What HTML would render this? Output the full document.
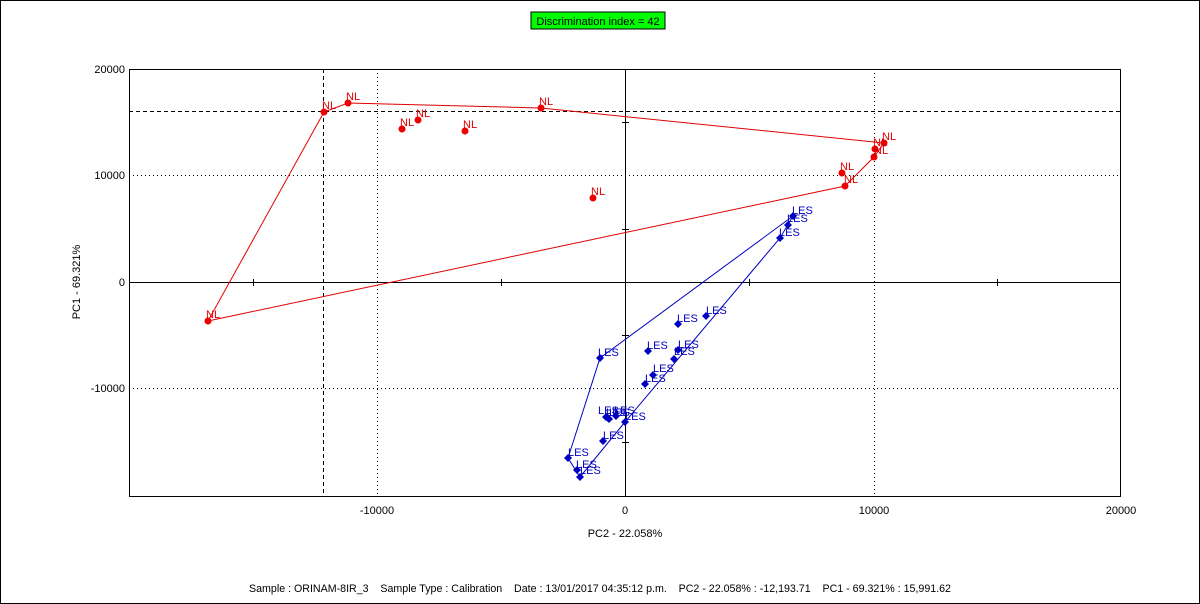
<!DOCTYPE html>
<html><head><meta charset="utf-8"><style>
body{margin:0;background:#fff;}
svg{display:block;font-family:"Liberation Sans",sans-serif;}
</style></head><body>
<svg width="1200" height="604" viewBox="0 0 1200 604" xmlns="http://www.w3.org/2000/svg">
<rect x="0.5" y="0.5" width="1199" height="603" fill="#fff" stroke="#000"/>
<rect x="531" y="12" width="134" height="17" fill="#00ff00" stroke="#000"/>
<text x="598" y="25" font-size="11" text-anchor="middle">Discrimination index = 42</text>
<g stroke="#000" stroke-width="1" stroke-dasharray="1,3">
<line x1="129" y1="175.5" x2="1121" y2="175.5"/>
<line x1="129" y1="388.5" x2="1121" y2="388.5"/>
<line x1="377.5" y1="69" x2="377.5" y2="496"/>
<line x1="874.5" y1="69" x2="874.5" y2="496"/>
</g>
<g stroke="#000" stroke-width="1" stroke-dasharray="4,3">
<line x1="323.5" y1="69" x2="323.5" y2="496"/>
<line x1="129" y1="111.5" x2="1121" y2="111.5"/>
</g>
<g stroke="#000" stroke-width="1">
<line x1="129" y1="282.5" x2="1121" y2="282.5"/>
<line x1="625.5" y1="69" x2="625.5" y2="496"/>
<line x1="253.5" y1="279" x2="253.5" y2="286"/>
<line x1="501.5" y1="279" x2="501.5" y2="286"/>
<line x1="749.5" y1="279" x2="749.5" y2="286"/>
<line x1="997.5" y1="279" x2="997.5" y2="286"/>
<line x1="622" y1="122.5" x2="629" y2="122.5"/>
<line x1="622" y1="229.5" x2="629" y2="229.5"/>
<line x1="622" y1="335.5" x2="629" y2="335.5"/>
<line x1="622" y1="442.5" x2="629" y2="442.5"/>
</g>
<rect x="129.5" y="69.5" width="991" height="427" fill="none" stroke="#000"/>
<g font-size="11" fill="#000">
<text x="125" y="73" text-anchor="end">20000</text>
<text x="125" y="179" text-anchor="end">10000</text>
<text x="125" y="286" text-anchor="end">0</text>
<text x="125" y="392" text-anchor="end">-10000</text>
<text x="377" y="514" text-anchor="middle">-10000</text>
<text x="625" y="514" text-anchor="middle">0</text>
<text x="874" y="514" text-anchor="middle">10000</text>
<text x="1121" y="514" text-anchor="middle">20000</text>
<text x="625" y="537" text-anchor="middle">PC2 - 22.058%</text>
<text transform="translate(80,282) rotate(-90)" text-anchor="middle">PC1 - 69.321%</text>
<text x="249" y="592" style="white-space:pre" xml:space="preserve" textLength="702" lengthAdjust="spacingAndGlyphs">Sample : ORINAM-8IR_3    Sample Type : Calibration    Date : 13/01/2017 04:35:12 p.m.    PC2 - 22.058% : -12,193.71    PC1 - 69.321% : 15,991.62</text>
</g>
<polyline fill="none" stroke="#e00000" points="208,321 324,112 348,103 541,108 884,143 874,157 845,186 208,321"/>
<g fill="#ee0000">
<circle cx="208" cy="321" r="3.5"/><circle cx="324" cy="112" r="3.5"/><circle cx="348" cy="103" r="3.5"/>
<circle cx="402" cy="129" r="3.5"/><circle cx="418" cy="120" r="3.5"/><circle cx="465" cy="131" r="3.5"/>
<circle cx="541" cy="108" r="3.5"/><circle cx="593" cy="198" r="3.5"/><circle cx="842" cy="173" r="3.5"/>
<circle cx="845" cy="186" r="3.5"/><circle cx="875" cy="149" r="3.5"/><circle cx="874" cy="157" r="3.5"/>
<circle cx="884" cy="143" r="3.5"/>
</g>
<g fill="#e00000" font-size="11">
<text x="206" y="318">NL</text><text x="322" y="109">NL</text><text x="346" y="100">NL</text>
<text x="400" y="126">NL</text><text x="416" y="117">NL</text><text x="463" y="128">NL</text>
<text x="539" y="105">NL</text><text x="591" y="195">NL</text><text x="840" y="170">NL</text>
<text x="844" y="183">NL</text><text x="873" y="146">NL</text><text x="874" y="154">NL</text>
<text x="882" y="140">NL</text>
</g>
<polyline fill="none" stroke="#0000c0" points="600,358 793,216 780,238 625,422 580,477 568,458 600,358"/>
<g fill="#0000c0">
<path d="M600,354l4,4l-4,4l-4,-4z"/><path d="M608,414l4,4l-4,4l-4,-4z"/><path d="M616,412l4,4l-4,4l-4,-4z"/>
<path d="M606,413l4,4l-4,4l-4,-4z"/><path d="M609,415l4,4l-4,4l-4,-4z"/><path d="M625,418l4,4l-4,4l-4,-4z"/>
<path d="M603,437l4,4l-4,4l-4,-4z"/><path d="M568,454l4,4l-4,4l-4,-4z"/><path d="M577,466l4,4l-4,4l-4,-4z"/>
<path d="M580,473l4,4l-4,4l-4,-4z"/><path d="M645,380l4,4l-4,4l-4,-4z"/><path d="M653,371l4,4l-4,4l-4,-4z"/>
<path d="M648,347l4,4l-4,4l-4,-4z"/><path d="M678,320l4,4l-4,4l-4,-4z"/><path d="M678,346l4,4l-4,4l-4,-4z"/>
<path d="M674,355l4,4l-4,4l-4,-4z"/><path d="M706,312l4,4l-4,4l-4,-4z"/><path d="M780,234l4,4l-4,4l-4,-4z"/>
<path d="M788,221l4,4l-4,4l-4,-4z"/><path d="M793,212l4,4l-4,4l-4,-4z"/>
</g>
<g fill="#0000c0" font-size="11">
<text x="598" y="356">LES</text><text x="606" y="416">LES</text><text x="614" y="414">LES</text>
<text x="598" y="414">LES</text><text x="609" y="416">LES</text><text x="625" y="420">LES</text>
<text x="603" y="439">LES</text><text x="568" y="456">LES</text><text x="576" y="468">LES</text>
<text x="580" y="474">LES</text><text x="645" y="382">LES</text><text x="653" y="372">LES</text>
<text x="647" y="349">LES</text><text x="677" y="322">LES</text><text x="678" y="348">LES</text>
<text x="674" y="355">LES</text><text x="706" y="314">LES</text><text x="779" y="236">LES</text>
<text x="787" y="222">LES</text><text x="792" y="214">LES</text>
</g>
</svg>
</body></html>
